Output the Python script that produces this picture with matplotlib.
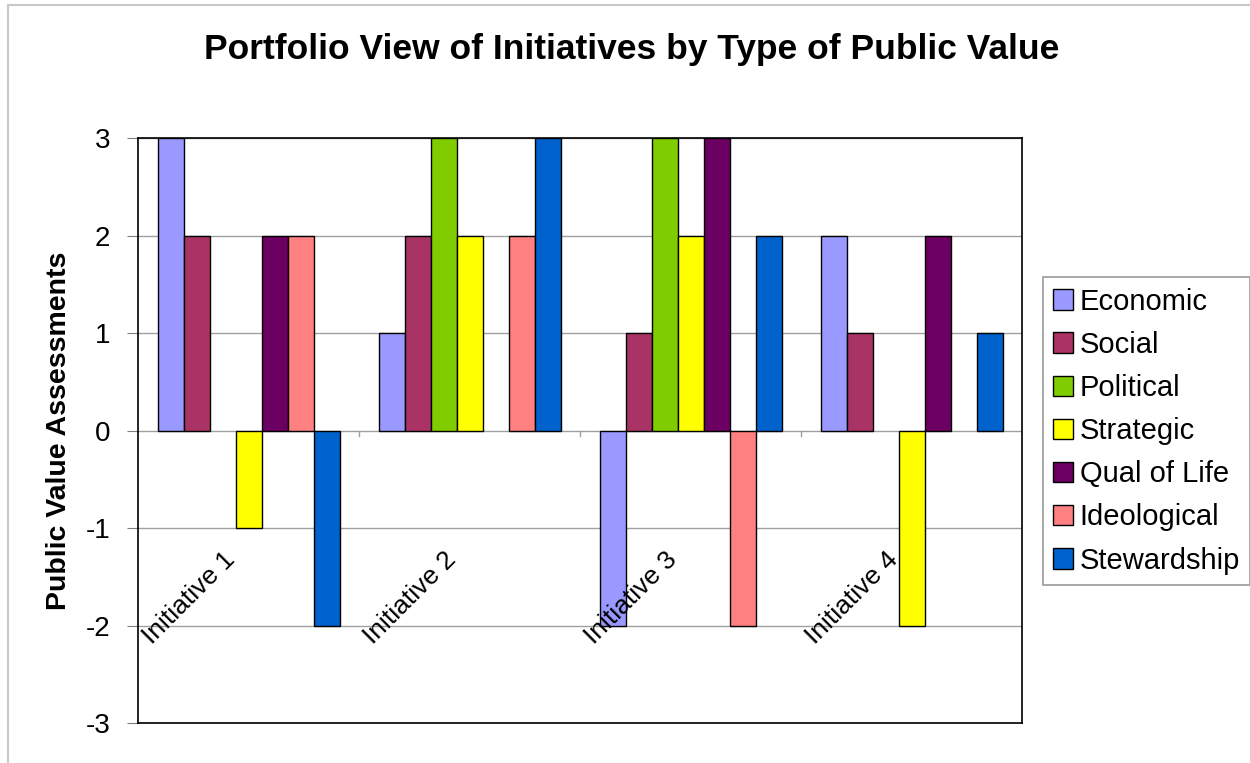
import numpy as np
import matplotlib.pyplot as plt
from matplotlib.patches import Rectangle

# Data
initiatives = ['Initiative 1', 'Initiative 2', 'Initiative 3', 'Initiative 4']
value_types = ['Economic', 'Social', 'Political', 'Strategic',
               'Qual of Life', 'Ideological', 'Stewardship']
economic = [3, 1, -2, 2]
social = [2, 2, 1, 1]
political = [0, 3, 3, 0]
strategic = [-1, 2, 2, -2]
qual_of_life = [2, 0, 3, 2]
ideological = [2, 2, -2, 0]
stewardship = [-2, 3, 2, 1]
series = [economic, social, political, strategic, qual_of_life, ideological, stewardship]
colors = ['#9999FF', '#A93364', '#7FCC00', '#FFFF00', '#6B0062', '#FF8080', '#0062CC']

plt.rcParams['font.family'] = ['Liberation Sans', 'DejaVu Sans']
plt.rcParams['axes.unicode_minus'] = False

fig = plt.figure(figsize=(12.5, 7.63), dpi=100)
ax = fig.add_axes([0.1104, 0.0524, 0.7072, 0.7667])

# figure frame
fig.patches.append(Rectangle((0.0064, -0.01), 1.2, 1.0034,
                             transform=fig.transFigure, fill=False,
                             edgecolor='#C8C8C8', linewidth=1.5))

n = len(series)
width = 1 / (n + 1.5)
x = np.arange(len(initiatives))
for j, (vals, name, c) in enumerate(zip(series, value_types, colors)):
    vals = np.array(vals, dtype=float)
    keep = vals != 0  # empty cells draw nothing
    ax.bar(x[keep] + (j - (n - 1) / 2) * width, vals[keep], width, color=c,
           edgecolor='black', linewidth=1.0, label=name, zorder=3)

ax.set_xlim(-0.5, len(initiatives) - 0.5)
ax.set_ylim(-3, 3)
ax.set_yticks(range(-3, 4))
ax.yaxis.grid(True, color='#A0A0A0', linewidth=1.0, zorder=0)
ax.tick_params(axis='y', labelsize=20, length=8, color='#808080', pad=12)
ax.set_xticks([])
for s in ax.spines.values():
    s.set_color('black')
    s.set_linewidth(1.2)

# small category tick marks on the zero line
for b in x[1:] - 0.5:
    ax.plot([b, b], [0, -0.06], color='#A0A0A0', linewidth=1.0, zorder=2)

# rotated category labels inside the plot
for i, lab in enumerate(initiatives):
    ax.text(i - 0.27, -1.72, lab, rotation=45, ha='center', va='center',
            fontsize=19, zorder=4)

ax.set_ylabel('Public Value Assessments', fontsize=20.5, fontweight='bold', labelpad=10)
fig.text(0.505, 0.935, 'Portfolio View of Initiatives by Type of Public Value',
         ha='center', va='center', fontsize=25.5, fontweight='bold')

leg = fig.legend(loc='center left', bbox_to_anchor=(0.834, 0.435), fontsize=21,
                 frameon=True, fancybox=False, edgecolor='#808080',
                 handlelength=0.7, handleheight=0.7, handletextpad=0.22,
                 labelspacing=0.52, borderpad=0.35, borderaxespad=0)
leg.get_frame().set_linewidth(1.2)

fig.savefig('out.png', dpi=100)
